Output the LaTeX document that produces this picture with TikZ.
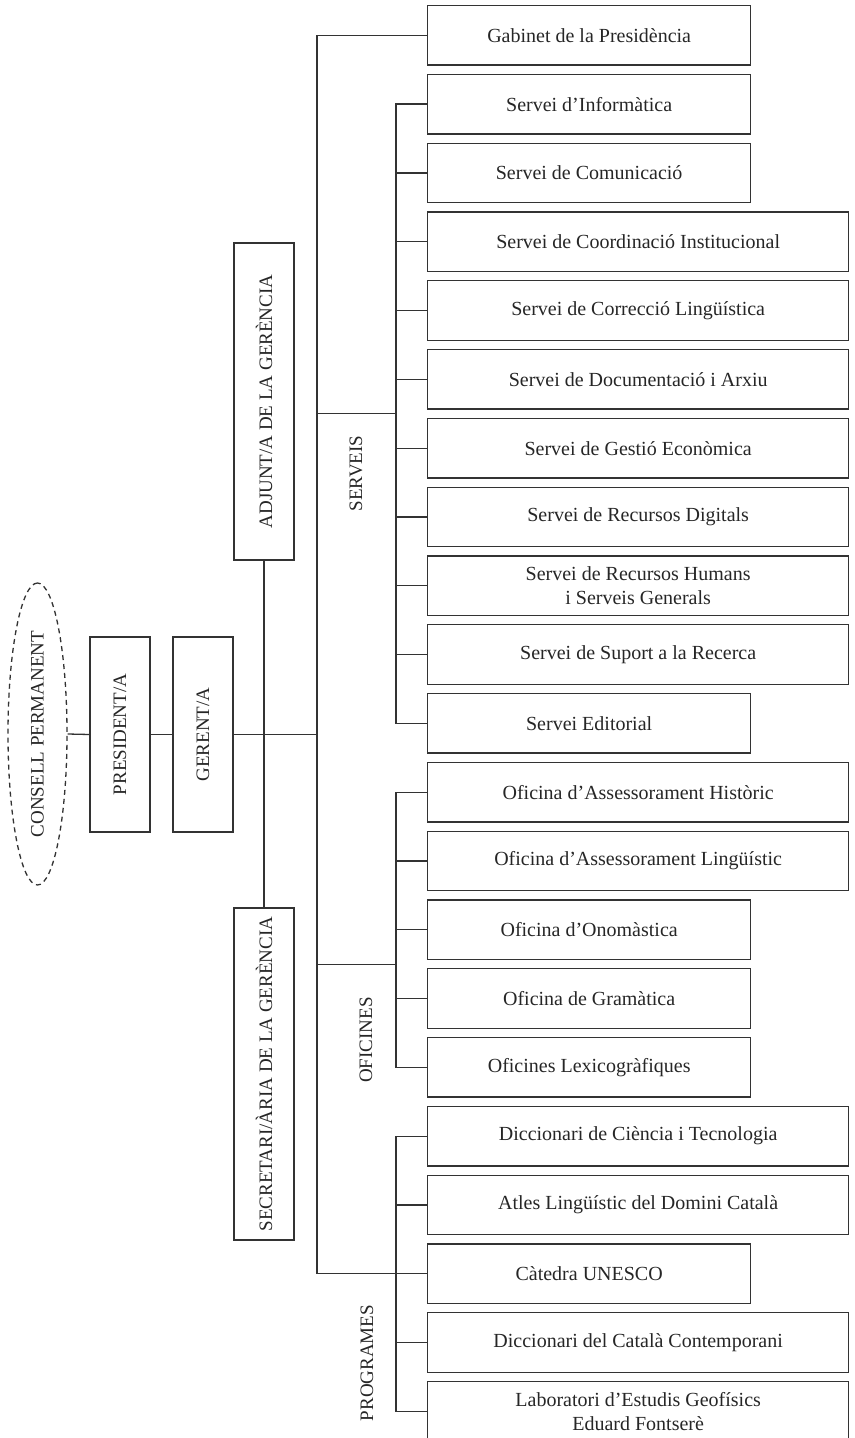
\documentclass[tikz,border=0pt]{standalone}
\usepackage{fontspec}
\setmainfont{Liberation Serif}
\usetikzlibrary{shapes.geometric}
\begin{document}
\begin{tikzpicture}[x=0.5pt,y=-0.5pt,
  every node/.style={text=black!85},
  ln/.style={draw=black!80,line width=0.65pt},
  sbox/.style={ln,rectangle,inner sep=0pt,minimum width=161.5pt,minimum height=29.75pt,anchor=west,font=\fontsize{10}{12}\selectfont,align=center},
  wbox/.style={sbox,minimum width=210.5pt},
  vbox/.style={ln,rectangle,rotate=90,inner sep=0pt,minimum height=30pt,font=\fontsize{9.5}{11}\selectfont},
  grp/.style={rotate=90,inner sep=0pt,font=\fontsize{9.5}{11}\selectfont},
]
\useasboundingbox (0,0) rectangle (855,1438);

% left chain
\node[ellipse,draw=black!80,line width=0.65pt,dash pattern=on 2.5pt off 2pt,rotate=90,inner sep=0pt,
      minimum width=151pt,minimum height=29.5pt,font=\fontsize{9.5}{11}\selectfont] (cp) at (37.5,734) {CONSELL PERMANENT};
\node[vbox,minimum width=97.5pt] (pres) at (120,734.5) {PRESIDENT/A};
\node[vbox,minimum width=97.5pt] (ger) at (203,734.5) {GERENT/A};
\node[vbox,minimum width=158.5pt] (adj) at (264,401.5) {ADJUNT/A DE LA GERÈNCIA};
\node[vbox,minimum width=166pt] (sec) at (264,1074) {SECRETARI/ÀRIA DE LA GERÈNCIA};

% right boxes
\node[sbox] (b0) at (427,35.35) {Gabinet de la Presidència};
\node[sbox] (b1) at (427,104.15) {Servei d’Informàtica};
\node[sbox] (b2) at (427,172.95) {Servei de Comunicació};
\node[wbox] (b3) at (427,241.75) {Servei de Coordinació Institucional};
\node[wbox] (b4) at (427,310.55) {Servei de Correcció Lingüística};
\node[wbox] (b5) at (427,379.35) {Servei de Documentació i Arxiu};
\node[wbox] (b6) at (427,448.15) {Servei de Gestió Econòmica};
\node[wbox] (b7) at (427,516.95) {Servei de Recursos Digitals};
\node[wbox] (b8) at (427,585.75) {Servei de Recursos Humans\\i Serveis Generals};
\node[wbox] (b9) at (427,654.55) {Servei de Suport a la Recerca};
\node[sbox] (b10) at (427,723.35) {Servei Editorial};
\node[wbox] (b11) at (427,792.15) {Oficina d’Assessorament Històric};
\node[wbox] (b12) at (427,860.95) {Oficina d’Assessorament Lingüístic};
\node[sbox] (b13) at (427,929.75) {Oficina d’Onomàstica};
\node[sbox] (b14) at (427,998.55) {Oficina de Gramàtica};
\node[sbox] (b15) at (427,1067.35) {Oficines Lexicogràfiques};
\node[wbox] (b16) at (427,1136.15) {Diccionari de Ciència i Tecnologia};
\node[wbox] (b17) at (427,1204.95) {Atles Lingüístic del Domini Català};
\node[sbox] (b18) at (427,1273.75) {Càtedra UNESCO};
\node[wbox] (b19) at (427,1342.55) {Diccionari del Català Contemporani};
\node[wbox] (b20) at (427,1411.35) {Laboratori d’Estudis Geofísics\\Eduard Fontserè};

% group labels
\node[grp] (gs) at (356,473.5) {SERVEIS};
\node[grp] (go) at (366,1040) {OFICINES};
\node[grp] (gp) at (367,1363) {PROGRAMES};

% coordinates
\coordinate (T) at (317,734.5);
\coordinate (S) at (317,413.75);
\coordinate (sv) at (396,413.75);
\coordinate (O) at (317,964.15);
\coordinate (ov) at (396,964.15);
\coordinate (pv) at (396,1273.75);

% connectors
\draw[ln] (cp.south) -- (pres.north);
\draw[ln] (pres.south) -- (ger.north);
\draw[ln] (ger.south) -- (T);
\draw[ln] (adj.west) -- (sec.east);
\draw[ln] (b0.west) -| (T) |- (b18.west);
\draw[ln] (S) -- (sv);
\draw[ln] (O) -- (ov);
\draw[ln] (b1.west) -| (sv) |- (b10.west);
\foreach \i in {2,...,9} \draw[ln] (b\i.west) -- (b\i.west -| sv);
\draw[ln] (b11.west) -| (ov) |- (b15.west);
\foreach \i in {12,13,14} \draw[ln] (b\i.west) -- (b\i.west -| ov);
\draw[ln] (b16.west) -| (pv) |- (b20.west);
\foreach \i in {17,19} \draw[ln] (b\i.west) -- (b\i.west -| pv);
\end{tikzpicture}
\end{document}
